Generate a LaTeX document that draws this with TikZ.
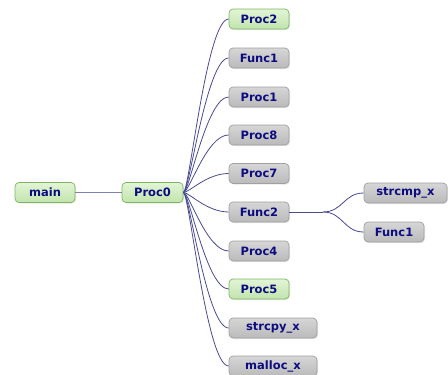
\documentclass[tikz,border=0pt]{standalone}
\usepackage{fontspec}
\setmainfont{DejaVu Sans}
\usetikzlibrary{shadows}
\definecolor{edgec}{HTML}{4A4A94}
\definecolor{txtc}{HTML}{0C0C80}
\definecolor{gfillt}{HTML}{E2F5D6}
\definecolor{gfillb}{HTML}{C2E4AC}
\definecolor{gdraw}{HTML}{7DB562}
\definecolor{yfillt}{HTML}{D6D6D6}
\definecolor{yfillb}{HTML}{BABABA}
\definecolor{ydraw}{HTML}{A0A0A0}
\tikzset{
  boxbase/.style={rounded corners=4pt, minimum width=60pt, minimum height=20pt,
    inner sep=0pt, font=\fontsize{11.5}{13}\selectfont\bfseries, text=txtc, line width=0.7pt,
    drop shadow={opacity=0.2, shadow xshift=1pt, shadow yshift=-1pt}},
  gbox/.style={boxbase, draw=gdraw, top color=gfillt, bottom color=gfillb},
  ybox/.style={boxbase, draw=ydraw, top color=yfillt, bottom color=yfillb},
  link/.style={draw=edgec, line width=0.8pt},
}
\begin{document}
\begin{tikzpicture}[x=1pt,y=-1pt]
\useasboundingbox (0,0) rectangle (448,375);
\node[gbox] (main) at (45,192.5) {main};
\node[gbox, minimum width=61pt] (p0) at (152.5,192.5) {Proc0};
\node[gbox] (c1) at (259,19) {Proc2};
\node[ybox] (c2) at (259,58) {Func1};
\node[ybox] (c3) at (259,97) {Proc1};
\node[ybox] (c4) at (259,135) {Proc8};
\node[ybox] (c5) at (259,173.5) {Proc7};
\node[ybox] (c6) at (259,212) {Func2};
\node[ybox] (c7) at (259,251) {Proc4};
\node[gbox] (c8) at (259,289) {Proc5};
\node[ybox, minimum width=88pt] (c9) at (273,328) {strcpy\_x};
\node[ybox, minimum width=88pt] (c10) at (273,366) {malloc\_x};
\node[ybox, minimum width=83pt] (s1) at (405.5,193) {strcmp\_x};
\node[ybox] (s2) at (394,232) {Func1};
\coordinate (split) at (323,212);
\draw[link, draw=edgec!70] (main.east) -- (p0.west);
\foreach \c in {c1,c2,c3,c4,c5,c6,c7,c8,c9,c10}{
  \draw[link] (p0.east) .. controls ([xshift=6pt]p0.east) and ([xshift=-22pt]\c.west) .. (\c.west);
}
\draw[link] (c6.east) -- (split);
\foreach \c in {s1,s2}{
  \draw[link] (split) .. controls ([xshift=20pt]split) and ([xshift=-20pt]\c.west) .. (\c.west);
}
\end{tikzpicture}
\end{document}
